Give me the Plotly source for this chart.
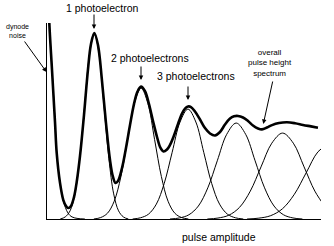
import plotly.graph_objects as go

# ---- data (pulse amplitude in photoelectron units, counts in arbitrary units; 1 p.e. peak = 100) ----
noise_x = [0.035, 0.049, 0.106, 0.169, 0.205, 0.275, 0.345, 0.444, 0.529, 0.655, 0.80]
noise_y = [118, 105.4, 80.6, 53.2, 35.5, 19.4, 9.7, 3.2, 1.1, 0.27, 0.0]

pe1_x = [0.28, 0.385, 0.488, 0.590, 0.693, 0.795, 0.898, 1.000, 1.103, 1.205, 1.308, 1.410, 1.513, 1.615, 1.72]
pe1_y = [0.0, 1.1, 4.4, 13.5, 32.5, 60.7, 88.2, 100.0, 88.2, 60.7, 32.5, 13.5, 4.4, 1.1, 0.0]

pe2_x = [0.99, 1.135, 1.278, 1.420, 1.563, 1.705, 1.848, 1.990, 2.133, 2.275, 2.418, 2.560, 2.703, 2.845, 2.99]
pe2_y = [0.0, 0.78, 3.09, 9.52, 22.86, 42.70, 62.13, 70.4, 62.13, 42.70, 22.86, 9.52, 3.09, 0.78, 0.0]

pe3_x = [1.81, 1.978, 2.145, 2.312, 2.479, 2.646, 2.813, 2.980, 3.147, 3.314, 3.481, 3.648, 3.815, 3.982, 4.15]
pe3_y = [0.0, 0.66, 2.59, 8.00, 19.19, 35.84, 52.16, 59.1, 52.16, 35.84, 19.19, 8.00, 2.59, 0.66, 0.0]

pe4_x = [2.6, 2.8, 3.0, 3.2, 3.4, 3.6, 3.8, 4.0, 4.2, 4.4, 4.6, 4.8, 5.0, 5.2, 5.4]
pe4_y = [0.0, 0.57, 2.27, 6.98, 16.75, 31.30, 45.54, 51.6, 45.54, 31.30, 16.75, 6.98, 2.27, 0.57, 0.0]

pe5_x = [3.39, 3.615, 3.843, 4.070, 4.298, 4.525, 4.753, 4.980, 5.208, 5.435, 5.663, 5.890]
pe5_y = [0.0, 0.51, 2.03, 6.25, 15.00, 28.02, 40.77, 46.2, 40.77, 28.02, 15.00, 6.25]

pe6_x = [4.23, 4.48, 4.73, 4.98, 5.23, 5.48, 5.73, 5.98]
pe6_y = [0.0, 0.46, 1.80, 5.55, 13.31, 24.87, 36.18, 41.0]

total_x = [0.038, 0.049, 0.106, 0.169, 0.205, 0.275, 0.345, 0.402, 0.450, 0.507, 0.571, 0.634,
           0.698, 0.782, 0.867, 0.930, 1.000, 1.078, 1.163, 1.247, 1.332, 1.395, 1.448, 1.501,
           1.586, 1.670, 1.755, 1.839, 1.913, 1.987, 2.072, 2.156, 2.241, 2.326, 2.400, 2.463,
           2.537, 2.600, 2.685, 2.770, 2.854, 2.918, 2.981, 3.044, 3.129, 3.235, 3.340, 3.446,
           3.552, 3.658, 3.763, 3.869, 3.953, 4.038, 4.144, 4.250, 4.355, 4.461, 4.545, 4.651,
           4.757, 4.905, 5.074, 5.243, 5.412, 5.581, 5.729]
total_y = [115.1, 105.2, 80.1, 52.2, 35.5, 19.4, 10.2, 7.0, 5.9, 7.0, 11.8, 21.0,
           33.9, 55.9, 80.6, 94.1, 100.0, 93.5, 74.2, 51.6, 31.7, 22.6, 19.4, 20.4,
           27.4, 38.2, 50.5, 61.8, 68.5, 71.2, 68.8, 61.8, 52.7, 44.1, 38.2, 36.3,
           37.4, 39.8, 44.9, 51.1, 56.7, 59.4, 60.5, 60.2, 57.8, 53.5, 48.9, 46.0,
           44.9, 46.8, 50.8, 54.0, 55.2, 55.4, 54.6, 52.7, 50.3, 48.7, 48.2, 49.2,
           50.5, 51.6, 52.0, 51.5, 50.6, 49.8, 49.1]

labels_pe = ["1 photoelectron", "2 photoelectrons", "3 photoelectrons"]
label_noise = "dynode<br>noise"
label_total = "overall<br>pulse height<br>spectrum"
x_title = "pulse amplitude"

# ---- figure ----
W, H = 334, 246
L, R, T, B = 47, 13, 23, 27
X_MAX = 5.793
Y_MAX = 105.4

fig = go.Figure()
thin = dict(color="black", width=1, shape="spline", smoothing=1.0)
for xs, ys in [(noise_x, noise_y), (pe1_x, pe1_y), (pe2_x, pe2_y), (pe3_x, pe3_y),
               (pe4_x, pe4_y), (pe5_x, pe5_y), (pe6_x, pe6_y)]:
    fig.add_trace(go.Scatter(x=xs, y=ys, mode="lines", line=thin, hoverinfo="skip"))

fig.add_trace(go.Scatter(x=total_x, y=total_y, mode="lines",
                         line=dict(color="black", width=2.6, shape="spline", smoothing=1.0),
                         hoverinfo="skip"))

FONT = "Liberation Sans, Arial, sans-serif"


def px(xp):
    return (xp - L) / (W - L - R)


def py(yp):
    return (H - B - yp) / (H - T - B)


ann = []
# text labels
ann.append(dict(text=labels_pe[0], x=px(65), y=py(8), xanchor="left", yanchor="middle", font_size=10.5))
ann.append(dict(text=labels_pe[1], x=px(110), y=py(58), xanchor="left", yanchor="middle", font_size=10.5))
ann.append(dict(text=labels_pe[2], x=px(156), y=py(76), xanchor="left", yanchor="middle", font_size=10.5))
ann.append(dict(text=label_noise, x=px(17), y=py(31), xanchor="center", yanchor="middle", font_size=7))
ann.append(dict(text=label_total, x=px(270), y=py(62.5), xanchor="center", yanchor="middle", font_size=8))
ann.append(dict(text=x_title, x=px(181), y=py(237), xanchor="left", yanchor="middle", font_size=10.5))
for a in ann:
    a.update(xref="paper", yref="paper", showarrow=False, borderpad=0,
             font=dict(family=FONT, size=a.pop("font_size"), color="black"))

# arrows (tip, tail offset in pixels)
arrows = [((94, 29), (0, -16)), ((141, 80), (0, -15)), ((188, 100), (0, -15)),
          ((263.3, 124), (9.7, -44)), ((46.5, 72), (-23, -32))]
for (tx, ty), (dx, dy) in arrows:
    ann.append(dict(text="", x=px(tx), y=py(ty), xref="paper", yref="paper",
                    ax=dx, ay=dy, showarrow=True, arrowhead=2, arrowsize=0.9,
                    arrowwidth=1, arrowcolor="black", standoff=0))

fig.update_layout(
    width=W, height=H, autosize=False,
    margin=dict(l=L, r=R, t=T, b=B, pad=0),
    paper_bgcolor="white", plot_bgcolor="white",
    showlegend=False,
    annotations=ann,
    xaxis=dict(range=[0, X_MAX], showline=True, linecolor="black", linewidth=1.2,
               showgrid=False, zeroline=False, ticks="", showticklabels=False, fixedrange=True),
    yaxis=dict(range=[0, Y_MAX], showline=True, linecolor="black", linewidth=1.2,
               showgrid=False, zeroline=False, ticks="", showticklabels=False, fixedrange=True),
)

fig.write_html("out.html", config={"displayModeBar": False})
